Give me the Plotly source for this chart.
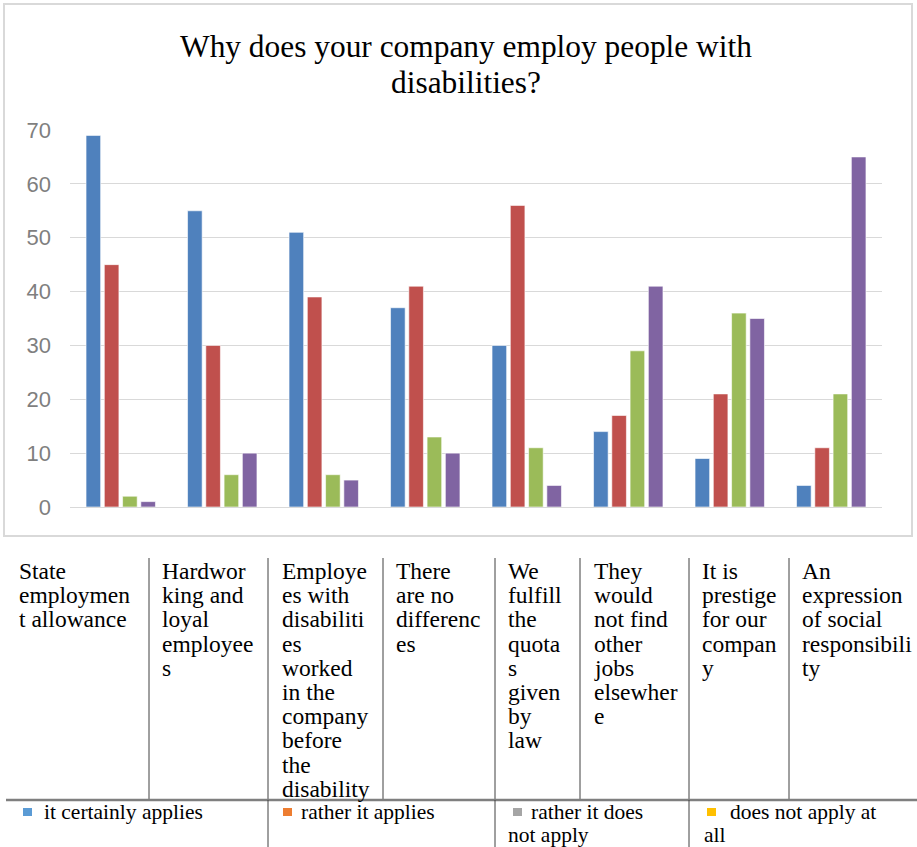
import plotly.graph_objects as go

W, H = 917, 847

# ---------------- data ----------------
categories = [
    "State employment allowance",
    "Hardworking and loyal employees",
    "Employees with disabilities worked in the company before the disability",
    "There are no differences",
    "We fulfill the quotas given by law",
    "They would not find other jobs elsewhere",
    "It is prestige for our company",
    "An expression of social responsibility",
]

category_lines = [
    ["State", "employmen", "t allowance"],
    ["Hardwor", "king and", "loyal", "employee", "s"],
    ["Employe", "es with", "disabiliti", "es", "worked", "in the", "company", "before", "the", "disability"],
    ["There", "are no", "differenc", "es"],
    ["We", "fulfill", "the", "quota", "s", "given", "by", "law"],
    ["They", "would", "not find", "other", "jobs", "elsewher", "e"],
    ["It is", "prestige", "for our", "compan", "y"],
    ["An", "expression", "of social", "responsibili", "ty"],
]

series_names = ["it certainly applies", "rather it applies",
                "rather it does not apply", "does not apply at all"]
certainly_applies = [69, 55, 51, 37, 30, 14, 9, 4]
rather_applies = [45, 30, 39, 41, 56, 17, 21, 11]
rather_not_apply = [2, 6, 6, 13, 11, 29, 36, 21]
not_apply_at_all = [1, 10, 5, 10, 4, 41, 35, 65]

legend_lines = [["it certainly applies"], ["rather it applies"],
                ["rather it does", "not apply"], ["does not apply at", "all"]]

y_ticks = [0, 10, 20, 30, 40, 50, 60, 70]

title_lines = ["Why does your company employ people with", "disabilities?"]

# ---------------- styles ----------------
bar_colors = ["#4F81BD", "#C0504D", "#9BBB59", "#8064A2"]
legend_colors = ["#5B9BD5", "#ED7D31", "#A5A5A5", "#FFC000"]
SERIF = "Liberation Serif, Times New Roman, serif"
SANS = "Liberation Sans, Arial, sans-serif"
TXT = 23.5
LEG_TXT = 21.5


def px(x):
    return x / W


def py(y):
    return 1 - y / H


fig = go.Figure()
for name, vals, col in zip(series_names,
                           [certainly_applies, rather_applies, rather_not_apply, not_apply_at_all],
                           bar_colors):
    fig.add_trace(go.Bar(x=categories, y=vals, name=name, marker_color=col,
                         marker_line_color="rgba(255,255,255,0.6)", marker_line_width=1,
                         showlegend=False))

shapes = []
annotations = []

# chart frame
shapes.append(dict(type="rect", xref="paper", yref="paper",
                   x0=px(4), x1=px(912), y0=py(536), y1=py(4),
                   line=dict(color="#D9D9D9", width=2), fillcolor="rgba(0,0,0,0)", layer="below"))

# title
for i, t in enumerate(title_lines):
    annotations.append(dict(text=t, xref="paper", yref="paper", x=px(466), y=py(47 + 35 * i),
                            xanchor="center", yanchor="middle", showarrow=False,
                            font=dict(family=SERIF, size=31.4, color="#000000")))

# table under the chart
col_x = [17, 160, 280, 394, 506, 592, 700, 800]
div_x = [149, 268, 383, 495, 580, 689, 789]
for cx, lines in zip(col_x, category_lines):
    for j, ln in enumerate(lines):
        annotations.append(dict(text=ln, xref="paper", yref="paper", x=px(cx), y=py(571 + 24.2 * j),
                                xanchor="left", yanchor="middle", showarrow=False,
                                font=dict(family=SERIF, size=TXT, color="#000000")))
for dx in div_x:
    shapes.append(dict(type="line", xref="paper", yref="paper", x0=px(dx), x1=px(dx),
                       y0=py(558), y1=py(800), line=dict(color="#404040", width=1)))
shapes.append(dict(type="line", xref="paper", yref="paper", x0=px(6), x1=px(917),
                   y0=py(800), y1=py(800), line=dict(color="#7F7F7F", width=2.5)))
for dx in [268, 495, 689]:
    shapes.append(dict(type="line", xref="paper", yref="paper", x0=px(dx), x1=px(dx),
                       y0=py(800), y1=py(847), line=dict(color="#404040", width=1)))

# legend row
sq_x = [23, 283, 513, 707]
txt_x = [42, 299, 529, 728]
txt2_x = [42, 299, 506, 702]
for k in range(4):
    shapes.append(dict(type="rect", xref="paper", yref="paper",
                       x0=px(sq_x[k]), x1=px(sq_x[k] + 9), y0=py(816), y1=py(808),
                       line=dict(width=0), fillcolor=legend_colors[k]))
    for j, ln in enumerate(legend_lines[k]):
        annotations.append(dict(text=ln, xref="paper", yref="paper",
                                x=px(txt_x[k] if j == 0 else txt2_x[k]), y=py(811.5 + 23.5 * j),
                                xanchor="left", yanchor="middle", showarrow=False,
                                font=dict(family=SERIF, size=LEG_TXT, color="#000000")))

fig.update_layout(
    width=W, height=H, autosize=False,
    margin=dict(l=0, r=0, t=0, b=0, pad=0, autoexpand=False),
    paper_bgcolor="white", plot_bgcolor="white",
    barmode="group", bargap=0.28, bargroupgap=0.2,
    shapes=shapes, annotations=annotations,
    xaxis=dict(domain=[px(70), px(882)], showticklabels=False, showgrid=False,
               showline=True, linecolor="#D9D9D9", linewidth=1, ticks="", zeroline=False,
               automargin=False, fixedrange=True),
    yaxis=dict(domain=[py(507), py(130)], range=[0, 70], tickvals=y_ticks,
               showgrid=True, gridcolor="#D9D9D9", gridwidth=1, zeroline=False,
               showline=False, ticks="", ticklabelstandoff=18, automargin=False,
               tickfont=dict(family=SANS, size=22, color="#7F7F7F"), fixedrange=True),
)

fig.write_html("out.html", config={"displayModeBar": False},
               post_script="document.body.style.margin='0';document.body.style.overflow='hidden';")
